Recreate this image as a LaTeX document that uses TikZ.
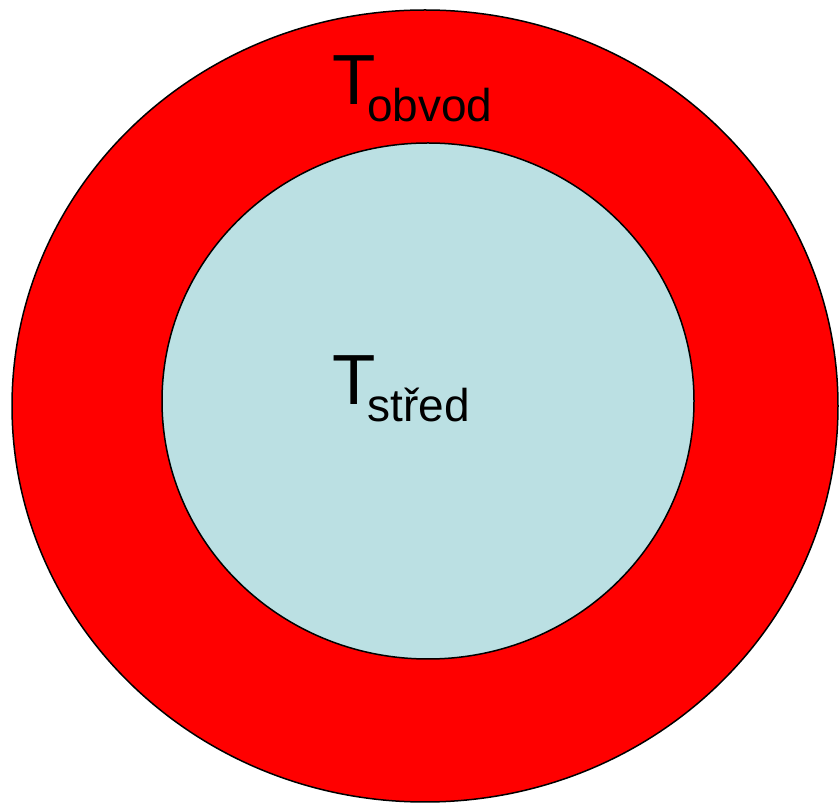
\documentclass[tikz,border=0pt]{standalone}
\usepackage{fontspec}
\setmainfont{Liberation Sans}
\definecolor{ringred}{RGB}{255,0,0}
\definecolor{corecyan}{RGB}{187,224,227}
\tikzset{
  ring/.style={draw=black, line width=1.5pt},
  bigT/.style={inner sep=0pt, anchor=base west, font=\fontsize{71}{71}\selectfont},
  subT/.style={inner sep=0pt, anchor=base west, font=\fontsize{46}{46}\selectfont}
}
\begin{document}
\begin{tikzpicture}[x=1pt,y=1pt]
\useasboundingbox (0,0) rectangle (839,804);
\draw[ring, fill=ringred] (425,398) ellipse [x radius=413, y radius=396];
\draw[ring, fill=corecyan] (428,403) ellipse [x radius=266, y radius=258];
\node[bigT] (tobvod) at (332.5,699) {T};
\node[subT] (sobvod) at (367,682) {obvod};
\node[bigT] (tstred) at (332.5,399) {T};
\node[subT] (sstred) at (367.5,382) {střed};
\end{tikzpicture}
\end{document}
